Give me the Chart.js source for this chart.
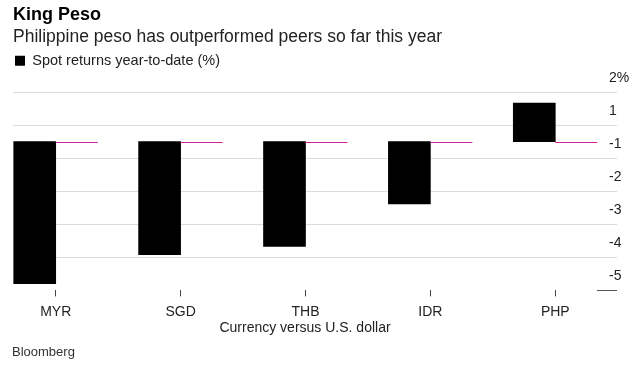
<!DOCTYPE html>
<html>
<head>
<meta charset="utf-8">
<script src="https://cdn.jsdelivr.net/npm/chart.js@4/dist/chart.umd.min.js"></script>
<style>
  html, body { margin: 0; padding: 0; background: #fff; }
  .wrap { width: 639px; height: 365px; position: relative; }
</style>
</head>
<body>
<div class="wrap"><canvas id="myChart"></canvas></div>
<script>
"use strict";

// DATA
const categories = ["MYR", "SGD", "THB", "IDR", "PHP"];
const spotReturns = [-4.3, -3.42, -3.17, -1.88, 1.17];
const zeroLine = [0, 0, 0, 0, 0];
const tickValues = [-4.5, -3.5, -2.5, -1.5, -0.5, 0.5, 1.5];
const tickLabels = ["-5", "-4", "-3", "-2", "-1", "1", "2%"];

const FONT = "'Liberation Sans', Arial, Helvetica, sans-serif";
Chart.defaults.font.family = FONT;
Chart.defaults.color = "#222";

// magenta zero segments on top of the empty second series
const zeroLinePlugin = {
  id: "zeroLine",
  afterDatasetsDraw(chart) {
    const meta = chart.getDatasetMeta(1);
    const c = chart.ctx;
    c.save();
    c.strokeStyle = "#d4249b";
    c.lineWidth = 1;
    meta.data.forEach((bar) => {
      const half = bar.width / 2;
      c.beginPath();
      c.moveTo(bar.x - half, Math.round(bar.y) + 0.5);
      c.lineTo(bar.x + half, Math.round(bar.y) + 0.5);
      c.stroke();
    });
    c.restore();
  },
};

// extra room under the legend
const legendGap = {
  id: "legendGap",
  beforeInit(chart) {
    const fit = chart.legend.fit;
    chart.legend.fit = function () {
      fit.bind(chart.legend)();
      this.height += 14;
    };
  },
};

// SOURCE NOTE
const sourcePlugin = {
  id: "source",
  afterDraw(chart) {
    const c = chart.ctx;
    c.save();
    c.font = "13px " + FONT;
    c.fillStyle = "#333";
    c.textBaseline = "middle";
    c.fillText("Bloomberg", 12, chart.height - 13);
    c.restore();
  },
};

const ctx = document.getElementById("myChart").getContext("2d");
const myChart = new Chart(ctx, {
  type: "bar",
  data: {
    datasets: [
      {
        label: "Spot returns year-to-date (%)",
        data: categories.map((c, i) => ({ x: i, y: spotReturns[i] })),
        backgroundColor: "#000",
        barThickness: 42,
      },
      {
        label: "zero",
        data: categories.map((c, i) => ({ x: i, y: zeroLine[i] })),
        backgroundColor: "rgba(0,0,0,0)",
        barThickness: 42,
      },
    ],
  },
  options: {
    responsive: true,
    maintainAspectRatio: false,
    animation: false,
    layout: { padding: { left: 13, right: 2, top: 0, bottom: 26 } },
    plugins: {
      title: {
        display: true,
        text: "King Peso",
        align: "start",
        color: "#000",
        font: { size: 18, weight: "bold" },
        padding: { top: 4, bottom: 0 },
      },
      subtitle: {
        display: true,
        text: "Philippine peso has outperformed peers so far this year",
        align: "start",
        color: "#222",
        font: { size: 17.5 },
        padding: { top: 1, bottom: 4 },
      },
      legend: {
        align: "start",
        labels: {
          boxWidth: 10,
          boxHeight: 10,
          padding: 2,
          color: "#222",
          font: { size: 14.5 },
          filter: (item) => item.datasetIndex === 0,
        },
      },
      tooltip: { enabled: false },
    },
    scales: {
      x: {
        type: "linear",
        offset: false,
        min: -0.342,
        max: 4.334,
        afterBuildTicks: (scale) => {
          scale.ticks = categories.map((c, i) => ({ value: i }));
        },
        ticks: {
          callback: (v) => categories[v],
          font: { size: 14 },
          color: "#222",
          padding: 7,
          maxRotation: 0,
        },
        grid: {
          offset: false,
          drawOnChartArea: false,
          tickLength: 6,
          tickColor: "#444",
        },
        border: { display: false },
        title: {
          display: true,
          text: "Currency versus U.S. dollar",
          font: { size: 14 },
          color: "#222",
          padding: { top: -7, bottom: 2 },
        },
      },
      y: {
        position: "right",
        min: -4.5,
        max: 1.5,
        afterBuildTicks: (scale) => {
          scale.ticks = tickValues.map((v) => ({ value: v }));
        },
        afterFit: (scale) => {
          scale.width = 40;
        },
        ticks: {
          callback: (v, i) => tickLabels[i],
          crossAlign: "near",
          padding: -8,
          labelOffset: -14,
          font: { size: 14 },
          color: "#222",
        },
        grid: {
          tickLength: 20,
          color: (c) => (c.tick && c.tick.value === -4.5 ? "rgba(0,0,0,0)" : "#dcdcdc"),
          tickColor: (c) => (c.tick && c.tick.value === -4.5 ? "#555" : "#dcdcdc"),
        },
        border: { display: false },
      },
    },
  },
  plugins: [zeroLinePlugin, legendGap, sourcePlugin],
});
</script>
</body>
</html>
